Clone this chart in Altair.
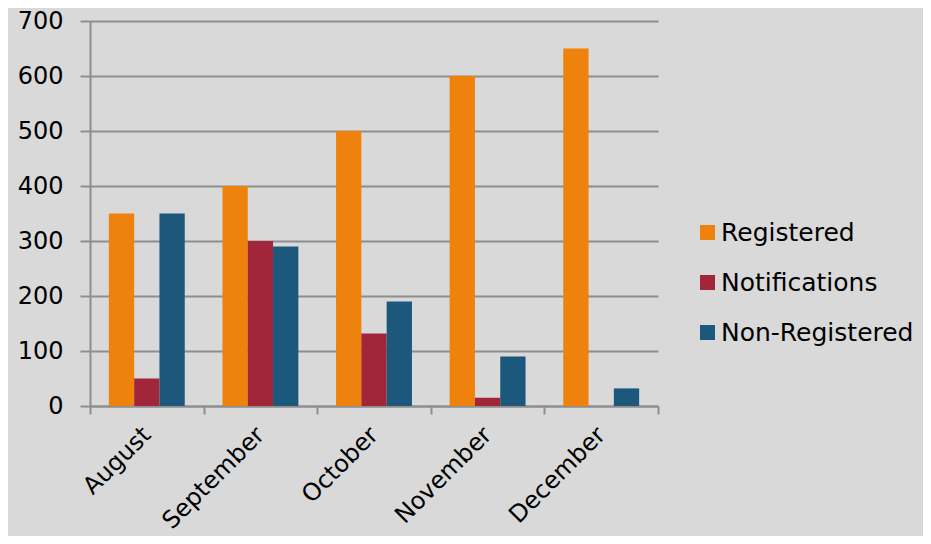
import altair as alt
import pandas as pd

months = ["August", "September", "October", "November", "December"]
series = ["Registered", "Notifications", "Non-Registered"]
registered = [350, 400, 500, 600, 650]
notifications = [50, 300, 132, 15, 0]
non_registered = [350, 290, 190, 90, 32]
colors = ["#EF820D", "#A1263A", "#1B587C"]

rows = []
for i, m in enumerate(months):
    for s, vals in zip(series, [registered, notifications, non_registered]):
        rows.append({"month": m, "series": s, "value": vals[i]})
df = pd.DataFrame(rows)

font = "DejaVu Sans"
grey = "#8e8e8e"

chart = alt.Chart(df).mark_bar().encode(
    x=alt.X("month:N", sort=months, title=None,
            scale=alt.Scale(paddingInner=0, paddingOuter=0),
            axis=alt.Axis(labelAngle=315, labelAlign="right", labelBaseline="middle",
                          labelFontSize=24, labelFont=font, labelColor="black",
                          labelPadding=17, tickSize=8, tickBand="extent",
                          tickColor=grey, tickWidth=2, domainColor=grey, domainWidth=2,
                          grid=False)),
    xOffset=alt.XOffset("series:N", sort=series,
                        scale=alt.Scale(paddingInner=0, paddingOuter=0.745)),
    y=alt.Y("value:Q", title=None,
            scale=alt.Scale(domain=[0, 700]),
            axis=alt.Axis(values=[0, 100, 200, 300, 400, 500, 600, 700],
                          labelFontSize=24, labelFont=font, labelColor="black",
                          labelPadding=17, tickSize=10, tickColor=grey, tickWidth=2,
                          domainColor=grey, domainWidth=2,
                          gridColor=grey, gridWidth=2)),
    color=alt.Color("series:N", sort=series,
                    scale=alt.Scale(domain=series, range=colors),
                    legend=alt.Legend(title=None, orient="none", legendX=605, legendY=199,
                                      symbolType="square", symbolSize=225,
                                      symbolStrokeWidth=0, labelFontSize=25,
                                      labelFont=font, labelColor="black", labelLimit=400,
                                      rowPadding=24, labelOffset=1)),
).properties(
    width=568, height=385,
    autosize=alt.AutoSizeParams(type="none"),
    padding={"left": 82, "top": 13, "right": 265, "bottom": 130},
    background="#d9d9d9",
).configure_view(stroke=None)

chart.save("out.html", embed_options={"renderer": "svg", "actions": False})
